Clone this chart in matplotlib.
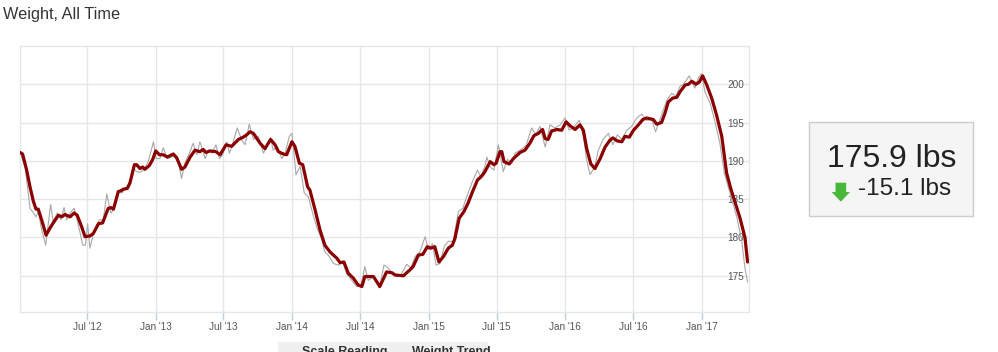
import matplotlib
matplotlib.use("Agg")
import matplotlib.pyplot as plt
import pandas as pd
from matplotlib.patches import Rectangle, Polygon

plt.rcParams['font.family'] = ['Liberation Sans', 'DejaVu Sans']

# ---------------- data ----------------
start = pd.Timestamp("2012-01-01")

trend_days = [3, 10, 21, 30, 39, 46, 52, 61, 73, 83, 92, 106, 115, 123, 137, 148, 156, 168, 177, 190,
              199, 213, 224, 239, 246, 253, 266, 273, 279, 290, 297, 309, 315, 324, 331, 337, 349, 358,
              366, 376, 386, 397, 413, 422, 435, 444, 458, 471, 484, 493, 500, 511, 527, 538, 554, 569,
              587, 600, 609, 618, 627, 645, 658, 673, 685, 694, 707, 716, 730, 738, 750, 759, 772, 778,
              792, 805, 818, 832, 850, 859, 869, 881, 894, 907, 917, 925, 934, 948, 965, 983, 997, 1006,
              1028, 1046, 1054, 1068, 1080, 1092, 1101, 1112, 1123, 1135, 1148, 1159, 1166, 1177, 1190,
              1201, 1213, 1226, 1235, 1242, 1246, 1260, 1270, 1276, 1286, 1291, 1297, 1311, 1322, 1340,
              1353, 1366, 1377, 1389, 1400, 1407, 1415, 1424, 1438, 1451, 1463, 1473, 1487, 1500, 1509,
              1518, 1529, 1540, 1554, 1567, 1580, 1588, 1600, 1612, 1620, 1632, 1643, 1656, 1668, 1678,
              1696, 1705, 1718, 1727, 1736, 1748, 1759, 1767, 1781, 1790, 1799, 1810, 1819, 1828, 1839,
              1852, 1865, 1879, 1892, 1903, 1914, 1928, 1941, 1948]
trend_lbs = [191.1, 190.9, 188.8, 186.6, 184.7, 183.7, 183.7, 182.3, 180.3, 181.2, 181.9, 182.9, 182.7,
             183.0, 182.7, 183.2, 182.9, 181.4, 180.1, 180.2, 180.5, 181.8, 181.9, 183.8, 183.9, 183.7,
             186.0, 186.1, 186.3, 186.4, 187.1, 189.5, 189.5, 189.0, 189.2, 188.9, 189.4, 190.2, 191.3,
             190.8, 190.8, 190.5, 190.9, 190.4, 188.9, 189.2, 190.5, 191.4, 191.2, 191.5, 191.1, 191.3,
             191.2, 190.8, 192.1, 191.9, 192.8, 193.1, 193.4, 193.8, 193.6, 192.3, 191.6, 192.8, 192.1,
             191.2, 190.9, 190.8, 192.5, 191.9, 189.7, 189.5, 186.6, 186.2, 183.6, 181.0, 179.0, 178.1,
             177.3, 176.7, 176.8, 175.3, 174.7, 173.8, 173.6, 174.9, 174.9, 174.9, 173.6, 175.5, 175.4,
             175.1, 175.0, 175.8, 176.2, 177.7, 177.8, 178.8, 178.6, 178.8, 176.8, 177.5, 178.6, 179.0,
             179.9, 182.5, 183.4, 184.5, 186.0, 187.5, 187.9, 188.3, 188.6, 189.9, 189.5, 189.7, 191.2,
             191.2, 189.9, 189.6, 190.3, 191.1, 191.4, 192.3, 193.3, 193.6, 194.1, 192.9, 192.8, 193.9,
             194.1, 194.0, 195.1, 194.6, 194.1, 194.7, 194.0, 191.6, 189.6, 189.0, 190.3, 191.8, 192.7,
             193.0, 192.6, 192.5, 193.2, 193.1, 194.0, 194.7, 195.4, 195.6, 195.4, 194.8, 195.0, 196.2,
             197.7, 198.2, 198.3, 199.0, 199.9, 200.0, 200.4, 200.0, 200.3, 201.1, 199.9, 198.2, 196.0,
             193.2, 188.4, 186.4, 184.7, 182.5, 180.0, 176.8]

scale_days = [3, 17, 30, 39, 46, 52, 61, 72, 85, 92, 103, 112, 121, 128, 137, 148, 156, 171, 178, 184,
              190, 201, 215, 226, 235, 246, 253, 266, 275, 288, 297, 306, 315, 324, 335, 346, 360, 367,
              377, 386, 397, 413, 424, 435, 444, 456, 466, 476, 484, 498, 507, 516, 527, 536, 545, 556,
              563, 572, 584, 596, 605, 616, 627, 640, 654, 663, 673, 680, 691, 703, 712, 723, 730, 741,
              752, 763, 774, 783, 796, 810, 818, 827, 841, 854, 866, 876, 890, 903, 914, 925, 934, 948,
              964, 976, 988, 1001, 1019, 1037, 1048, 1059, 1072, 1086, 1095, 1106, 1115, 1126, 1137,
              1148, 1161, 1175, 1187, 1197, 1211, 1226, 1235, 1246, 1251, 1260, 1270, 1282, 1295, 1306,
              1318, 1326, 1340, 1356, 1371, 1382, 1393, 1407, 1420, 1433, 1447, 1460, 1471, 1485, 1498,
              1509, 1518, 1527, 1540, 1549, 1562, 1576, 1588, 1600, 1612, 1625, 1638, 1652, 1665, 1678,
              1692, 1702, 1714, 1723, 1733, 1745, 1757, 1767, 1778, 1792, 1807, 1816, 1825, 1834, 1848,
              1861, 1874, 1886, 1901, 1919, 1932, 1941, 1948]
scale_lbs = [191.1, 189.2, 183.8, 183.2, 182.7, 183.4, 181.0, 179.0, 184.3, 182.1, 183.2, 182.3, 183.9,
             182.3, 183.2, 183.8, 182.3, 179.0, 179.0, 181.8, 178.6, 180.8, 182.3, 182.3, 185.7, 183.2,
             183.6, 186.1, 185.8, 186.6, 187.3, 189.0, 188.6, 188.5, 188.9, 189.9, 192.5, 190.3, 190.3,
             191.7, 190.3, 190.6, 190.5, 187.7, 189.7, 191.0, 192.3, 190.8, 192.5, 190.3, 191.4, 191.0,
             192.1, 190.3, 190.8, 192.5, 191.0, 192.3, 194.3, 192.7, 192.1, 194.8, 192.8, 193.2, 191.0,
             191.9, 193.0, 191.4, 191.9, 190.3, 191.0, 193.2, 193.6, 188.2, 189.3, 185.8, 185.3, 183.6,
             181.4, 179.7, 178.1, 177.7, 176.6, 176.4, 176.8, 175.3, 174.4, 173.6, 173.6, 176.2, 174.4,
             174.9, 173.4, 176.4, 176.0, 175.1, 174.9, 176.5, 176.0, 177.5, 178.1, 180.1, 178.4, 179.2,
             176.4, 176.6, 178.8, 179.5, 179.5, 183.4, 183.8, 185.3, 187.1, 188.8, 187.9, 189.3, 190.5,
             189.2, 188.8, 192.1, 188.6, 190.2, 189.7, 191.0, 191.4, 192.0, 194.3, 193.4, 194.5, 191.8,
             194.7, 194.3, 194.7, 195.6, 194.0, 194.5, 195.3, 193.2, 190.1, 188.2, 189.3, 191.4, 192.8,
             193.6, 192.1, 193.4, 192.8, 194.0, 194.5, 195.6, 196.1, 195.3, 195.4, 193.8, 195.4, 196.7,
             198.0, 198.8, 198.5, 199.7, 200.1, 201.1, 199.5, 200.8, 201.4, 199.0, 197.5, 195.1, 192.3,
             188.4, 185.8, 182.7, 179.7, 176.0, 174.2]

y_ticks = [175, 180, 185, 190, 195, 200]
x_tick_dates = ["2012-07-01", "2013-01-01", "2013-07-01", "2014-01-01", "2014-07-01",
                "2015-01-01", "2015-07-01", "2016-01-01", "2016-07-01", "2017-01-01"]
x_tick_labels = ["Jul '12", "Jan '13", "Jul '13", "Jan '14", "Jul '14",
                 "Jan '15", "Jul '15", "Jan '16", "Jul '16", "Jan '17"]
title = "Weight, All Time"
current_weight = "175.9 lbs"
weight_change = "-15.1 lbs"
legend_labels = ["Scale Reading", "Weight Trend"]

# ---------------- figure ----------------
W, H = 998, 352
fig = plt.figure(figsize=(W / 100, H / 100), dpi=100)
fig.patch.set_facecolor("white")

def fx(px):
    return px / W

def fy(py):
    return 1 - py / H

ax = fig.add_axes([fx(20), fy(312), fx(749) - fx(20), fy(46) - fy(312)])

trend_dates = start + pd.to_timedelta(trend_days, unit="D")
scale_dates = start + pd.to_timedelta(scale_days, unit="D")

ax.plot(scale_dates, scale_lbs, color="#a8a8a8", lw=0.8, zorder=2)
ax.plot(trend_dates, trend_lbs, color="#8b0000", lw=2.3, zorder=3,
        solid_joinstyle="round", solid_capstyle="round")

ax.set_xlim(start + pd.Timedelta(days=3.2), start + pd.Timedelta(days=1951.8))
ax.set_ylim(170.27, 205)

ax.set_xticks(pd.to_datetime(x_tick_dates))
ax.set_xticklabels(x_tick_labels)
ax.set_yticks(y_ticks)
ax.set_yticklabels([str(v) for v in y_ticks])

ax.set_axisbelow(True)
ax.grid(True, color="#e6e6e6", lw=1)
for s in ax.spines.values():
    s.set_color("#e6e6e6")
    s.set_linewidth(1)

ax.tick_params(axis="x", direction="out", length=6, width=1, color="#C0D0E0",
               pad=1.5, labelsize=7.2, labelcolor="#555555")
ax.yaxis.tick_right()
ax.tick_params(axis="y", length=0, pad=-15.6, labelsize=7.2, labelcolor="#555555")

# title
fig.text(fx(3), fy(18.5), title, fontsize=11.7, color="#333333", va="baseline", ha="left")

# summary box
fig.add_artist(Rectangle((fx(809.3), fy(215.7)), fx(973.3) - fx(809.3), fy(121.7) - fy(215.7),
                         transform=fig.transFigure, facecolor="#f5f5f5", edgecolor="#cccccc", lw=1))
fig.text(fx(891.3), fy(166.7), current_weight, fontsize=23, color="#222222",
         ha="center", va="baseline")
fig.text(fx(858.3), fy(195), weight_change, fontsize=17.5, color="#222222",
         ha="left", va="baseline")
arrow = [(835.5, 182.7), (846.2, 182.7), (846.2, 192), (850, 192), (840.85, 201.7),
         (831.7, 192), (835.5, 192)]
fig.add_artist(Polygon([(fx(x), fy(y)) for x, y in arrow], closed=True,
                       transform=fig.transFigure, facecolor="#48b83a", edgecolor="none"))

# legend (cut off at bottom)
fig.add_artist(Rectangle((fx(278.3), fy(360)), fx(488.3) - fx(278.3), fy(342.3) - fy(360),
                         transform=fig.transFigure, facecolor="#f0f0f0", edgecolor="none"))
fig.text(fx(301.7), fy(346.5), legend_labels[0], fontsize=9, fontweight="bold", color="#333333",
         ha="left", va="top")
fig.text(fx(411.7), fy(346.5), legend_labels[1], fontsize=9, fontweight="bold", color="#333333",
         ha="left", va="top")

fig.savefig("out.png", dpi=100, facecolor="white")
